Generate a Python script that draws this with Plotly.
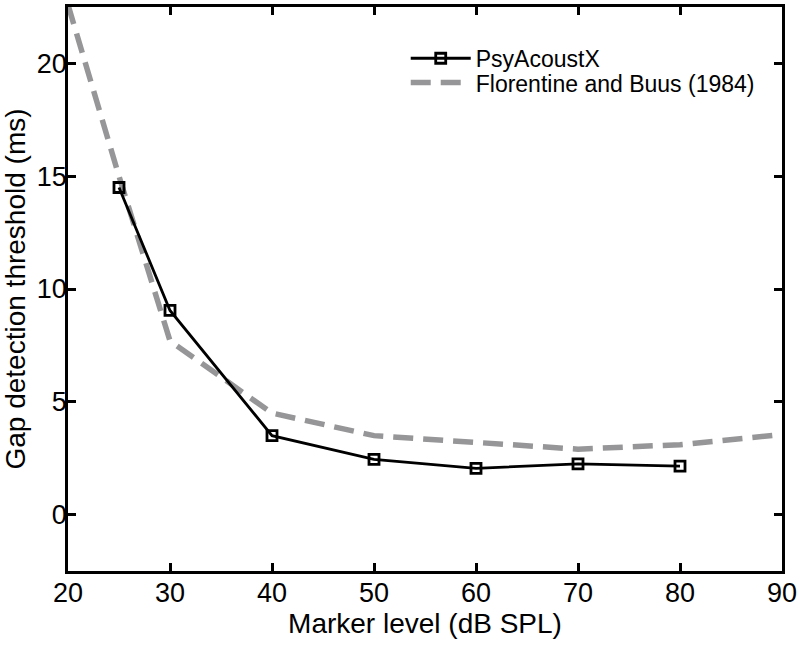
import plotly.graph_objects as go

# marker level (dB SPL)
psy_levels = [25, 30, 40, 50, 60, 70, 80]
psy_gap = [14.5, 9.05, 3.5, 2.45, 2.05, 2.25, 2.15]

fb_levels = [20, 25, 30, 40, 50, 60, 70, 80, 90]
fb_gap = [22.6, 15.0, 7.7, 4.5, 3.5, 3.2, 2.9, 3.1, 3.55]

x_ticks = [20, 30, 40, 50, 60, 70, 80, 90]
y_ticks = [0, 5, 10, 15, 20]

font_family = 'Liberation Sans, Arial, sans-serif'

fig = go.Figure()

fig.add_trace(go.Scatter(x=fb_levels,
                         y=fb_gap,
                         mode='lines',
                         name='Florentine and Buus (1984)',
                         legend='legend2',
                         line=dict(color='rgb(150,150,152)', width=5.5, dash='20px,10px')))

fig.add_trace(go.Scatter(x=psy_levels,
                         y=psy_gap,
                         mode='lines+markers',
                         name='PsyAcoustX',
                         legend='legend',
                         line=dict(color='black', width=2.8),
                         marker=dict(symbol='square-open', size=10, color='black',
                                     line=dict(width=2.8, color='black'))))

axis_common = dict(showline=True,
                   linecolor='black',
                   linewidth=2.5,
                   mirror='allticks',
                   ticks='inside',
                   ticklen=8,
                   tickwidth=2.5,
                   tickcolor='black',
                   showgrid=False,
                   zeroline=False,
                   automargin=False,
                   tickfont=dict(size=27, color='black', family=font_family))

fig.update_xaxes(range=[20, 90],
                 tickvals=x_ticks,
                 ticklabelstandoff=-4,
                 title=dict(text='Marker level (dB SPL)', standoff=4,
                            font=dict(size=28, color='black', family=font_family)),
                 **axis_common)
fig.update_yaxes(range=[-2.5, 22.5],
                 tickvals=y_ticks,
                 ticklabelstandoff=-7,
                 title=dict(text='Gap detection threshold (ms)', standoff=4,
                            font=dict(size=28, color='black', family=font_family)),
                 **axis_common)

legend_common = dict(xanchor='left', yanchor='middle',
                     bgcolor='rgba(0,0,0,0)',
                     font=dict(size=23, color='black', family=font_family),
                     itemwidth=60)

fig.update_layout(width=800,
                  height=645,
                  margin=dict(l=68, r=18, t=7, b=74),
                  plot_bgcolor='white',
                  paper_bgcolor='white',
                  showlegend=True,
                  font=dict(family=font_family, color='black'),
                  legend=dict(x=0.473, y=0.909, **legend_common),
                  legend2=dict(x=0.473, y=0.866, **legend_common))

# drop the default page margin so the figure sits at the window corner
fig.write_html("out.html",
               config={'displayModeBar': False},
               post_script="document.body.style.margin='0';")
